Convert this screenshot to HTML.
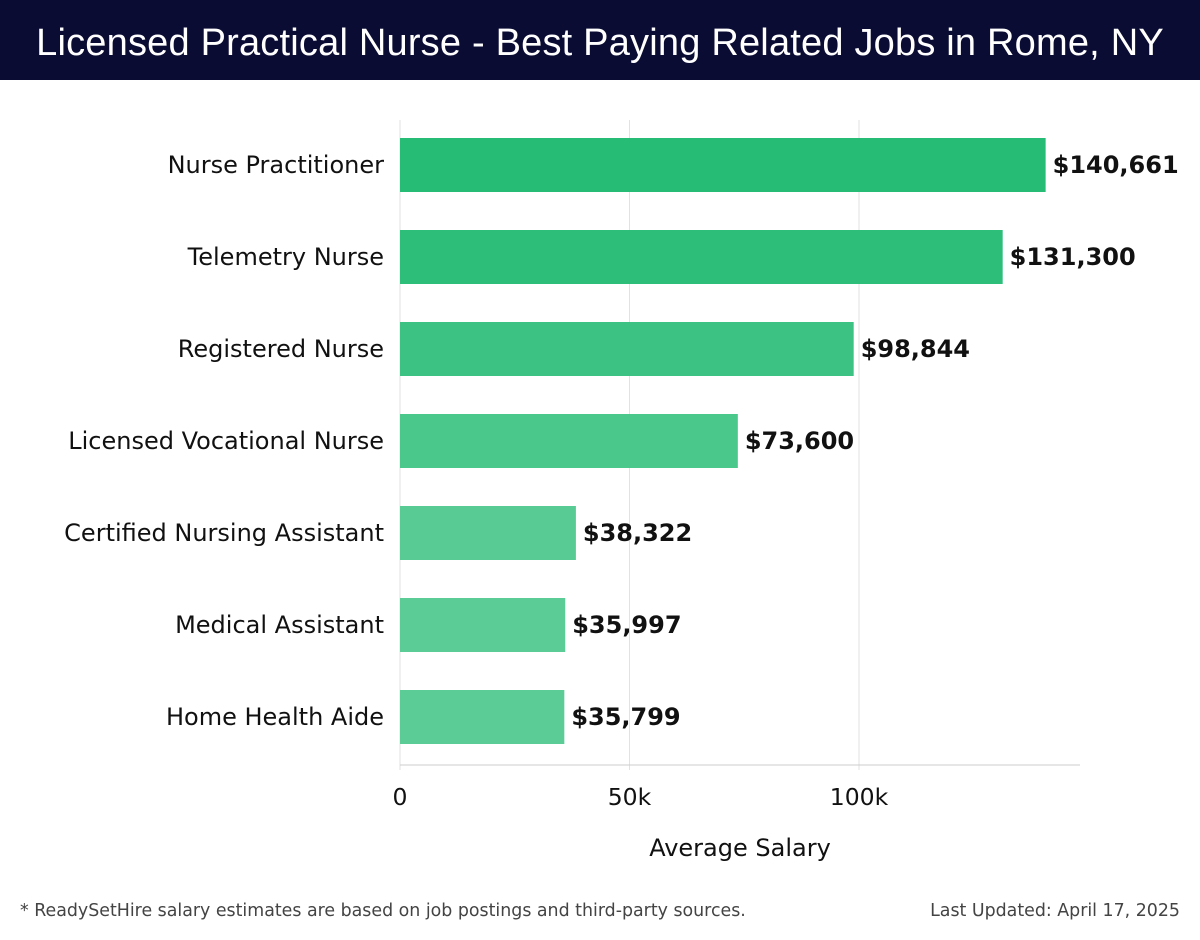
<!DOCTYPE html>
<html><head><meta charset="utf-8"><style>
body{margin:0;width:1200px;height:940px;background:#fff;font-family:"DejaVu Sans","Liberation Sans",sans-serif;overflow:hidden;position:relative}
#hdr{position:absolute;left:0;top:0;width:1200px;height:80px;background:#0b0c33;color:#fff;font-family:"Liberation Sans",sans-serif;font-size:38px;text-align:center;line-height:86px;font-weight:300;letter-spacing:0.2px}
.foot{position:absolute;top:901px;font-size:17.4px;color:#444}
</style></head><body>
<div id="hdr">Licensed Practical Nurse - Best Paying Related Jobs in Rome, NY</div>
<svg id="chart" width="1200" height="900" style="position:absolute;left:0;top:0"></svg>
<div class="foot" style="left:20px">* ReadySetHire salary estimates are based on job postings and third-party sources.</div>
<div class="foot" style="right:20px">Last Updated: April 17, 2025</div>
<script>
const categories=["Nurse Practitioner","Telemetry Nurse","Registered Nurse","Licensed Vocational Nurse","Certified Nursing Assistant","Medical Assistant","Home Health Aide"];
const values=[140661,131300,98844,73600,38322,35997,35799];
const colors=["#27bc76","#2dbe79","#3cc383","#4ac78a","#58cb94","#5bcc96","#5ccc96"];
const tickValues=[0,50000,100000];
const tickLabels=["0","50k","100k"];
const NS="http://www.w3.org/2000/svg";
const svg=document.getElementById('chart');
const x0=400,pxPer=229.5/50000,top0=120,band=92,barH=54;
const xs=v=>x0+v*pxPer;
const yc=i=>top0+45+i*band;
function mk(t,a){const e=document.createElementNS(NS,t);for(const k in a)e.setAttribute(k,a[k]);svg.appendChild(e);return e;}
tickValues.forEach((v,i)=>{
 const g=mk('line',{x1:xs(v),x2:xs(v),y1:top0,y2:770,stroke:'#e2e2e2','stroke-width':1});
 
 
 const t=mk('text',{x:xs(v),y:805,'text-anchor':'middle','font-size':23.5,fill:'#111'});
 t.textContent=tickLabels[i];
 
 
});
const ax=mk('line',{x1:x0,x2:1080,y1:765,y2:765,stroke:'#ccc'});


categories.forEach((c,i)=>{
 const r=mk('rect',{x:x0,y:yc(i)-barH/2,width:xs(values[i])-x0,height:barH,fill:colors[i]});
 
 
 const l=mk('text',{x:384,y:yc(i)+8,'text-anchor':'end','font-size':24,fill:'#111'});
 l.textContent=c;
 
 
 const v=mk('text',{x:xs(values[i])+7,y:yc(i)+8,'font-size':24,'font-weight':'bold',fill:'#111'});
 v.textContent='$'+values[i].toLocaleString('en-US');
 
 
});
const xt=mk('text',{x:740,y:856,'text-anchor':'middle','font-size':24,fill:'#111'});
xt.textContent='Average Salary';


</script>
</body></html>
